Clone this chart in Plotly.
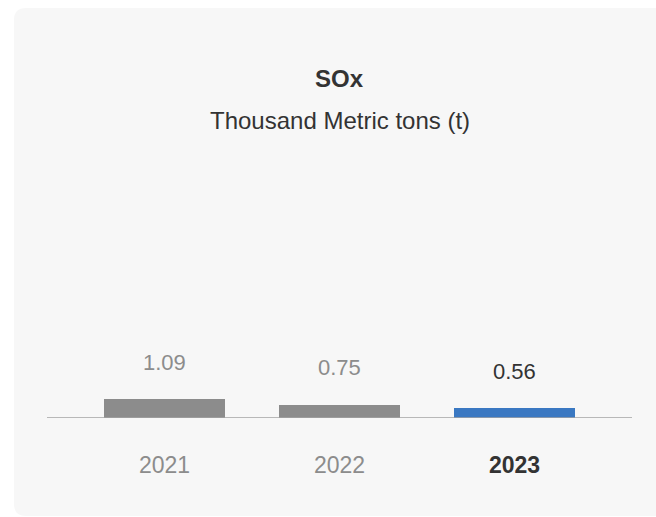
import plotly.graph_objects as go

# Annual SOx emissions, thousand metric tons
years = ["2021", "2022", "2023"]
values = [1.09, 0.75, 0.56]
value_labels = ["1.09", "0.75", "0.56"]

W, H = 656, 517
L, R, T, B = 47, 24, 160, 99          # plot area margins (px)
PW, PH = W - L - R, H - T - B          # plot area size (px)

GREY = "#8c8c8c"
DARK = "#333333"
BLUE = "#3a78c2"
FONT = "Liberation Sans, Arial, Helvetica, sans-serif"

bar_colors = [GREY, GREY, BLUE]
label_colors = [GREY, GREY, DARK]

fig = go.Figure(
    go.Bar(
        x=years,
        y=values,
        marker=dict(color=bar_colors, line=dict(width=0)),
        width=0.69,
        hoverinfo="skip",
    )
)

# pixel -> paper helpers
def px_x(p):
    return (p - L) / PW

def px_y(p):
    return (H - B - p) / PH

# rounded background card
x0, x1 = px_x(14), px_x(720)
y0, y1 = px_y(516), px_y(8)
rx, ry = 12 / PW, 12 / PH
card = (
    f"M {x0 + rx},{y1} L {x1},{y1} L {x1},{y0} L {x0 + rx},{y0} "
    f"Q {x0},{y0} {x0},{y0 + ry} L {x0},{y1 - ry} Q {x0},{y1} {x0 + rx},{y1} Z"
)

shapes = [
    dict(type="path", path=card, xref="paper", yref="paper",
         fillcolor="#f7f7f7", line=dict(width=0), layer="below"),
    dict(type="line", xref="paper", yref="y", x0=0, x1=1, y0=0, y1=0,
         line=dict(color="#a3a3a3", width=1.6), layer="above"),
]

annotations = [
    dict(text="<b>SOx</b>", xref="paper", yref="paper", x=0.5, y=px_y(78),
         showarrow=False, font=dict(family=FONT, size=24, color=DARK),
         xanchor="center", yanchor="middle"),
    dict(text="Thousand Metric tons (t)", xref="paper", yref="paper", x=0.5,
         y=px_y(121), showarrow=False,
         font=dict(family=FONT, size=24, color=DARK),
         xanchor="center", yanchor="middle"),
]

for i, (v, lab, c) in enumerate(zip(values, value_labels, label_colors)):
    annotations.append(dict(
        text=lab, x=i, y=v, xref="x", yref="y", showarrow=False,
        yshift=37, xanchor="center", yanchor="middle",
        font=dict(family=FONT, size=22, color=c)))

for i, yr in enumerate(years):
    last = i == len(years) - 1
    annotations.append(dict(
        text=f"<b>{yr}</b>" if last else yr, x=i, y=0, xref="x", yref="y",
        showarrow=False, yshift=-47, xanchor="center", yanchor="middle",
        font=dict(family=FONT, size=23, color=DARK if last else GREY)))

fig.update_layout(
    width=W, height=H,
    margin=dict(l=L, r=R, t=T, b=B, pad=0),
    paper_bgcolor="white",
    plot_bgcolor="rgba(0,0,0,0)",
    showlegend=False,
    shapes=shapes,
    annotations=annotations,
    xaxis=dict(type="category", range=[-0.671, 2.671], showticklabels=False,
               showgrid=False, zeroline=False, showline=False, fixedrange=True),
    yaxis=dict(range=[0, PH / 17.4], showticklabels=False, showgrid=False,
               zeroline=False, showline=False, fixedrange=True),
    bargap=0,
)

fig.write_html("out.html", config={"displayModeBar": False})
